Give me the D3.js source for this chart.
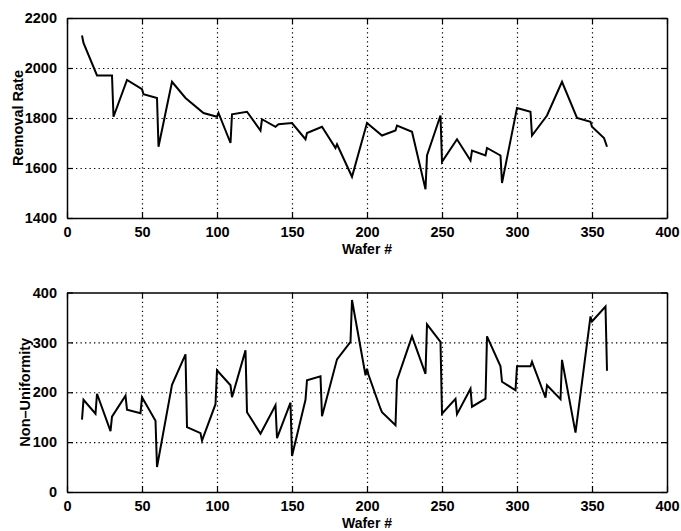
<!DOCTYPE html>
<html>
<head>
<meta charset="utf-8">
<script src="https://cdn.jsdelivr.net/npm/d3@7"></script>
<style>
  body { margin: 0; background: #fff; }
  text { font-family: "Liberation Sans", Arial, sans-serif; font-weight: bold; fill: #000; }
  .grid line { stroke: #000; stroke-width: 1.2; stroke-dasharray: 1.3,3.2; }
  .grid path { display: none; }
</style>
</head>
<body>
<script>
// wafer numbers and values
var wafersRR = [10,11,20,30,31,40,50,51,60,61,70,79,91,100,101,109,110,120,129,130,139,141,150,159,160,170,179,180,190,200,210,219,220,230,239,240,249,250,260,269,270,279,280,289,290,300,309,310,320,330,340,349,350,358,360];
var removalRate = [2130,2100,1970,1970,1805,1952,1915,1895,1880,1685,1945,1880,1820,1805,1820,1700,1815,1825,1750,1795,1765,1775,1780,1715,1740,1765,1680,1695,1565,1780,1730,1750,1770,1745,1515,1650,1810,1625,1715,1630,1670,1650,1680,1650,1540,1840,1825,1730,1810,1945,1800,1785,1765,1720,1685];

var wafersNU = [10,11,19,20,29,30,39,40,49,50,59,60,70,79,80,89,90,99,100,109,110,119,120,129,139,140,149,150,159,160,169,170,180,189,190,199,200,201,209,210,219,220,230,239,240,249,250,259,260,269,270,279,280,289,290,299,300,309,310,319,320,329,330,339,349,350,359,360];
var nonUniformity = [145,185,157,197,122,151,193,165,158,190,143,50,215,276,130,118,103,176,244,214,190,284,160,117,174,108,179,72,185,224,232,152,266,301,385,234,247,235,167,160,134,224,312,237,336,301,157,187,156,207,171,187,312,252,221,204,252,252,261,189,214,186,265,119,352,342,372,243];

var xTicks = [0,50,100,150,200,250,300,350,400];
var rrTicks = [1400,1600,1800,2000,2200];
var nuTicks = [0,100,200,300,400];

var W = 681, H = 531;
var left = 67, right = 667;

var svg = d3.select("body")
  .append("svg")
    .attr("width", W)
    .attr("height", H);

function drawPanel(top, bottom, xs, ys, yDomain, yTicks, yLabel, yLabelX) {
  var width = right - left, height = bottom - top;
  var g = svg.append("g")
    .attr("transform", "translate(" + left + "," + top + ")");

  var x = d3.scaleLinear().domain([0, 400]).range([0, width]);
  var y = d3.scaleLinear().domain(yDomain).range([height, 0]);

  // dotted grid
  g.append("g")
    .attr("class", "grid")
    .call(d3.axisLeft(y).tickValues(yTicks.slice(1, -1)).tickSize(-width).tickFormat(""));
  g.append("g")
    .attr("class", "grid")
    .attr("transform", "translate(0," + height + ")")
    .call(d3.axisBottom(x).tickValues(xTicks.slice(1, -1)).tickSize(-height).tickFormat(""));

  // data line
  var line = d3.line()
    .x(function(d) { return x(d[0]); })
    .y(function(d) { return y(d[1]); });
  g.append("path")
    .datum(xs.map(function(v, i) { return [v, ys[i]]; }))
    .attr("fill", "none")
    .attr("stroke", "#000")
    .attr("stroke-width", 2)
    .attr("d", line);

  // axes with inward ticks on all four sides
  g.append("g")
    .attr("transform", "translate(0," + height + ")")
    .call(d3.axisBottom(x).tickValues(xTicks).tickFormat(d3.format("d")).tickSizeInner(-6).tickSizeOuter(0).tickPadding(9));
  g.append("g")
    .call(d3.axisLeft(y).tickValues(yTicks).tickFormat(d3.format("d")).tickSizeInner(-6).tickSizeOuter(0).tickPadding(10));
  g.append("g")
    .call(d3.axisTop(x).tickValues(xTicks).tickSizeInner(-6).tickSizeOuter(0).tickFormat(""));
  g.append("g")
    .attr("transform", "translate(" + width + ",0)")
    .call(d3.axisRight(y).tickValues(yTicks).tickSizeInner(-6).tickSizeOuter(0).tickFormat(""));

  g.selectAll(".domain").attr("stroke-width", 1.5);
  g.selectAll(".tick line").attr("stroke-width", 1.2);
  g.selectAll(".tick text")
    .style("font-size", "14.5px")
    .style("font-family", "'Liberation Sans', Arial, sans-serif")
    .style("font-weight", "bold");

  // labels
  g.append("text")
    .attr("x", width / 2)
    .attr("y", height + 36)
    .attr("text-anchor", "middle")
    .style("font-size", "14px")
    .text("Wafer #");

  g.append("text")
    .attr("transform", "translate(" + (yLabelX - left) + "," + (height / 2) + ")rotate(-90)")
    .attr("text-anchor", "middle")
    .style("font-size", "14.5px")
    .text(yLabel);
}

drawPanel(18, 218, wafersRR, removalRate, [1400, 2200], rrTicks, "Removal Rate", 23);
drawPanel(292.5, 492, wafersNU, nonUniformity, [0, 400], nuTicks, "Non\u2013Uniformity", 30);
</script>
</body>
</html>
